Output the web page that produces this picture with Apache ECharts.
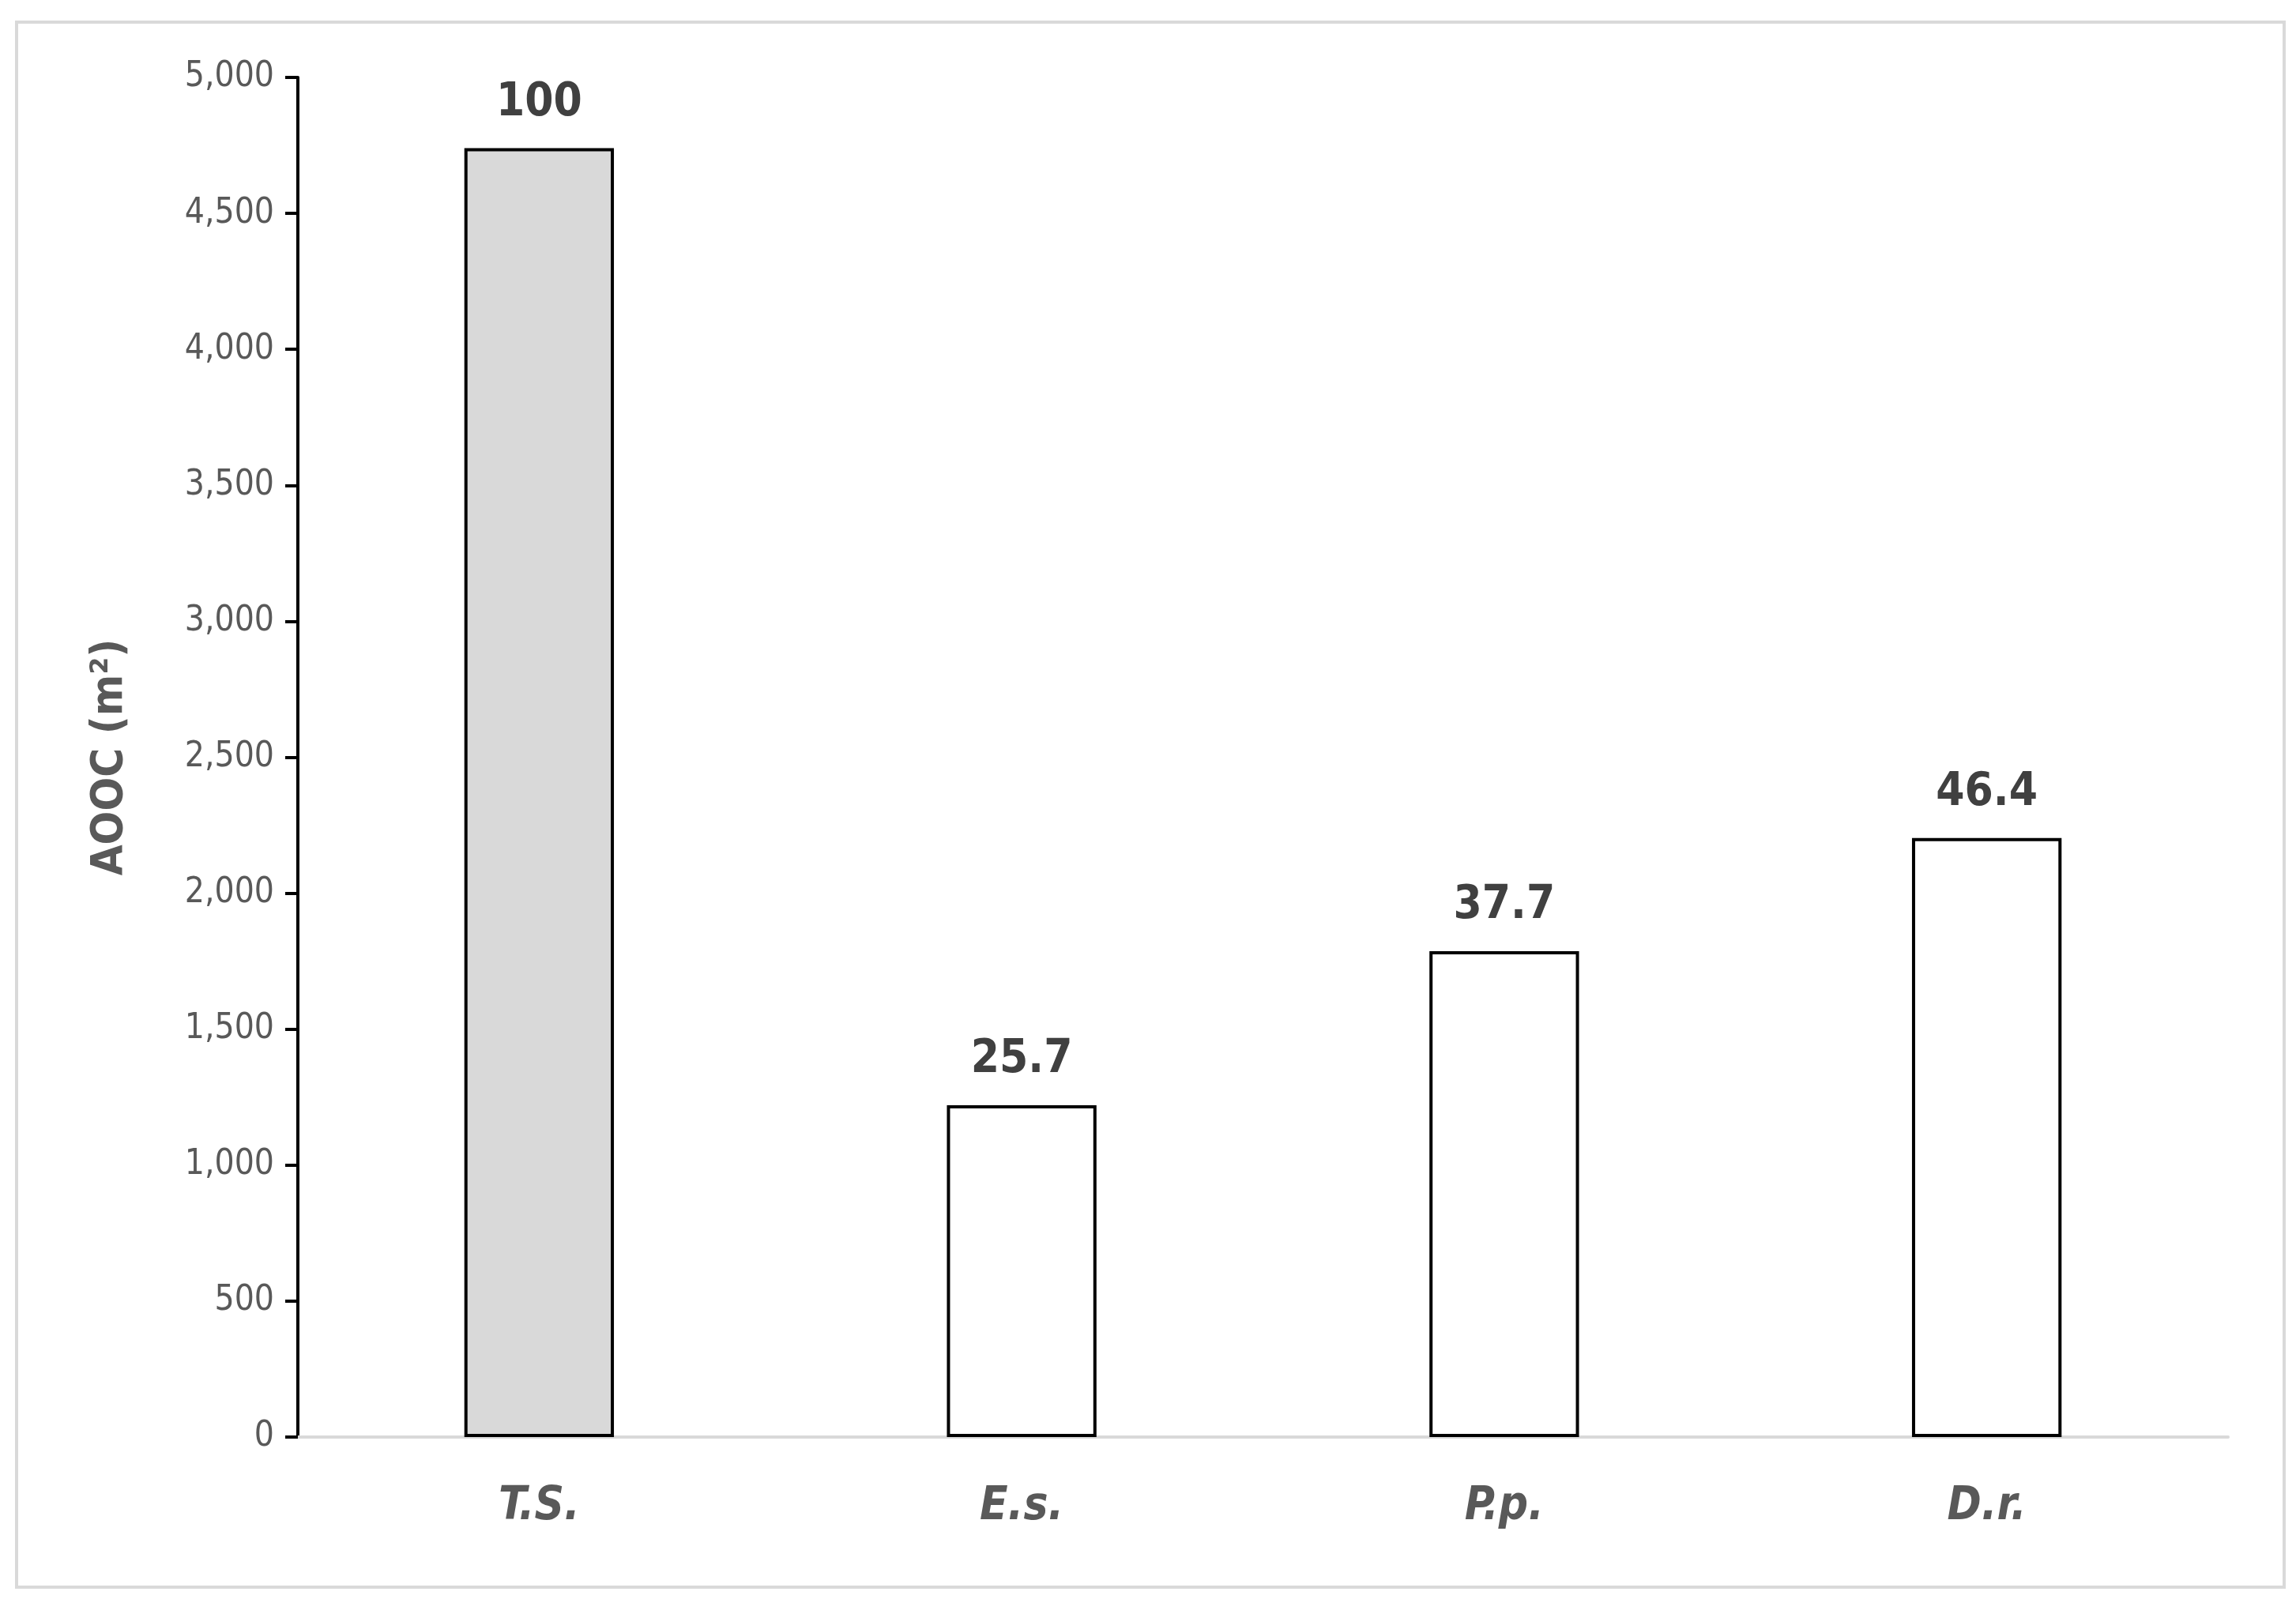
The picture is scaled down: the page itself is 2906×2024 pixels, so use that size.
<!DOCTYPE html>
<html>
<head>
<meta charset="utf-8">
<title>AOOC</title>
<script src="https://cdn.jsdelivr.net/npm/echarts@6/dist/echarts.min.js"></script>
<style>
  html, body { margin: 0; padding: 0; background: #fff; }
  #frame { position: absolute; left: 19px; top: 26px; width: 2866px; height: 1977px; border: 4px solid #d9d9d9; }
  #main { position: absolute; left: 0; top: 0; width: 2906px; height: 2024px; }
</style>
</head>
<body>
<div id="frame"></div>
<div id="main"></div>
<script>
  // species and their area (m2), labels are % of T.S.
  var species = ['T.S.', 'E.s.', 'P.p.', 'D.r.'];
  var aooc = [4740, 1220, 1787, 2203];
  var percent = ['100', '25.7', '37.7', '46.4'];
  var fills = ['#d9d9d9', '#ffffff', '#ffffff', '#ffffff'];

  var bars = [];
  for (var i = 0; i < species.length; i++) {
    bars.push({ value: aooc[i], itemStyle: { color: fills[i] }, label: { formatter: percent[i] } });
  }

  var font = '"DejaVu Sans Condensed", "Open Sans", sans-serif';
  var chart = echarts.init(document.getElementById('main'));
  chart.setOption({
    animation: false,
    grid: { left: 377, right: 86, top: 98, bottom: 205 },
    xAxis: {
      type: 'category',
      data: species,
      axisLine: { lineStyle: { color: '#d9d9d9', width: 4 } },
      axisTick: { show: false },
      axisLabel: { fontFamily: font, fontSize: 58, fontStyle: 'italic', fontWeight: 'bold', color: '#595959', margin: 60 }
    },
    yAxis: {
      type: 'value',
      min: 0, max: 5000, interval: 500,
      name: 'AOOC (m²)',
      nameLocation: 'middle',
      nameGap: 210,
      nameTextStyle: { fontFamily: font, fontSize: 56, fontWeight: 'bold', color: '#595959' },
      axisLine: { show: true, lineStyle: { color: '#000', width: 4 } },
      axisTick: { show: true, inside: false, length: 16, lineStyle: { color: '#000', width: 4 } },
      splitLine: { show: false },
      axisLabel: { fontFamily: font, fontSize: 44, color: '#595959', margin: 30 }
    },
    series: [{
      type: 'bar',
      barWidth: '31%',
      data: bars,
      itemStyle: { borderColor: '#000', borderWidth: 4 },
      label: { show: true, position: 'top', distance: 28, fontFamily: font, fontSize: 58, fontWeight: 'bold', color: '#404040' }
    }]
  });
</script>
</body>
</html>
